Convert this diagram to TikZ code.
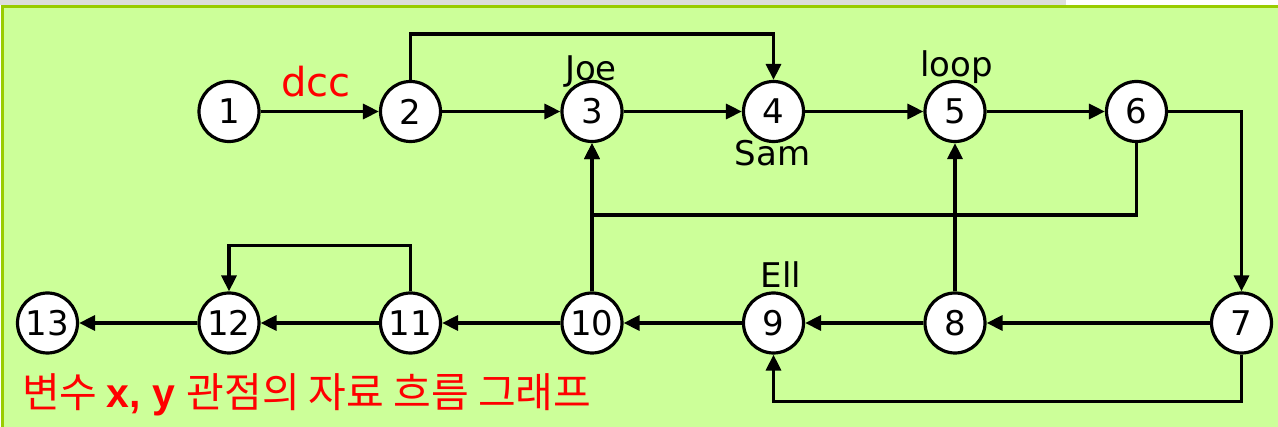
\documentclass[tikz,border=0pt]{standalone}
\usepackage{fontspec}
\setmainfont{DejaVu Sans}
\newfontfamily\kor{Noto Sans CJK KR}
\newfontfamily\arialbold{Liberation Sans}
\usetikzlibrary{arrows.meta}

\definecolor{panelfill}{HTML}{CCFF99}
\definecolor{panelline}{HTML}{99CC00}
\definecolor{topbar}{HTML}{DDDDDD}

\begin{document}
\begin{tikzpicture}[x=1pt, y=-1pt,
    vertex/.style={circle, draw, fill=white, line width=3.2pt, minimum size=60pt, inner sep=0pt,
                   font=\fontsize{34}{36}\selectfont},
    lbl/.style={inner sep=0pt, anchor=base, font=\fontsize{34}{36}\selectfont},
    flow/.style={line width=3.2pt, -{Triangle[length=16pt, width=15pt]}}]
    \useasboundingbox (0,0) rectangle (1278,427);

    % --- frame ---
    \fill[white] (0,0) rectangle (1278,427);
    \fill[topbar] (0,0) rectangle (1066,5);
    \fill[panelfill] (1,5) rectangle (1278,427);
    \draw[panelline, line width=3pt] (2.5,427) -- (2.5,6.5) -- (1278,6.5);

    % --- upper row ---
    \node[vertex] (n1) at (229,111.5) {1};
    \node[vertex] (n2) at (410.5,111.5) {2};
    \node[vertex] (n3) at (592,111.5) {3};
    \node[vertex] (n4) at (773.5,111.5) {4};
    \node[vertex] (n5) at (955,111.5) {5};
    \node[vertex] (n6) at (1136.5,111.5) {6};

    % --- lower row ---
    \node[vertex] (n13) at (47.5,323) {13};
    \node[vertex] (n12) at (229,323) {12};
    \node[vertex] (n11) at (410.5,323) {11};
    \node[vertex] (n10) at (592,323) {10};
    \node[vertex] (n9) at (773.5,323) {9};
    \node[vertex] (n8) at (955,323) {8};
    \node[vertex] (n7) at (1241.5,323) {7};

    % variable names at the nodes
    \node[lbl, text=red, font=\fontsize{40}{42}\selectfont] (dcc) at (316,96.5) {dcc};
    \node[lbl] (joe) at (591,81) {Joe};
    \node[lbl] (sam) at (772.5,166) {Sam};
    \node[lbl] (loop) at (956.5,77) {loop};
    \node[lbl] (ell) at (781,288) {Ell};

    % bend points
    \coordinate (top24) at (592,34);
    \coordinate (mid63) at (860,215);
    \coordinate (top1112) at (320,245.5);
    \coordinate (bot79) at (1000,401.5);

    % straight edges
    \draw[flow] (n1) -- (n2);
    \draw[flow] (n2) -- (n3);
    \draw[flow] (n3) -- (n4);
    \draw[flow] (n4) -- (n5);
    \draw[flow] (n5) -- (n6);
    \draw[flow] (n7) -- (n8);
    \draw[flow] (n8) -- (n9);
    \draw[flow] (n9) -- (n10);
    \draw[flow] (n10) -- (n11);
    \draw[flow] (n11) -- (n12);
    \draw[flow] (n12) -- (n13);
    \draw[flow] (n10) -- (n3);
    \draw[flow] (n8) -- (n5);

    % edges with corners
    \draw[flow] (n2.north) |- (top24) -| (n4.north);
    \draw[flow] (n6.east) -| (n7.north);
    \draw[flow] (n6.south) |- (mid63) -| (n3.south);
    \draw[flow] (n11.north) |- (top1112) -| (n12.north);
    \draw[flow] (n7.south) |- (bot79) -| (n9.south);

    % caption
    \node[inner sep=0pt, anchor=base west, text=red, font=\fontsize{41}{44}\selectfont] (caption) at (22,408)
        {\kor 변수 \arialbold\bfseries x, y \kor\mdseries 관점의 자료 흐름 그래프};
\end{tikzpicture}
\end{document}
